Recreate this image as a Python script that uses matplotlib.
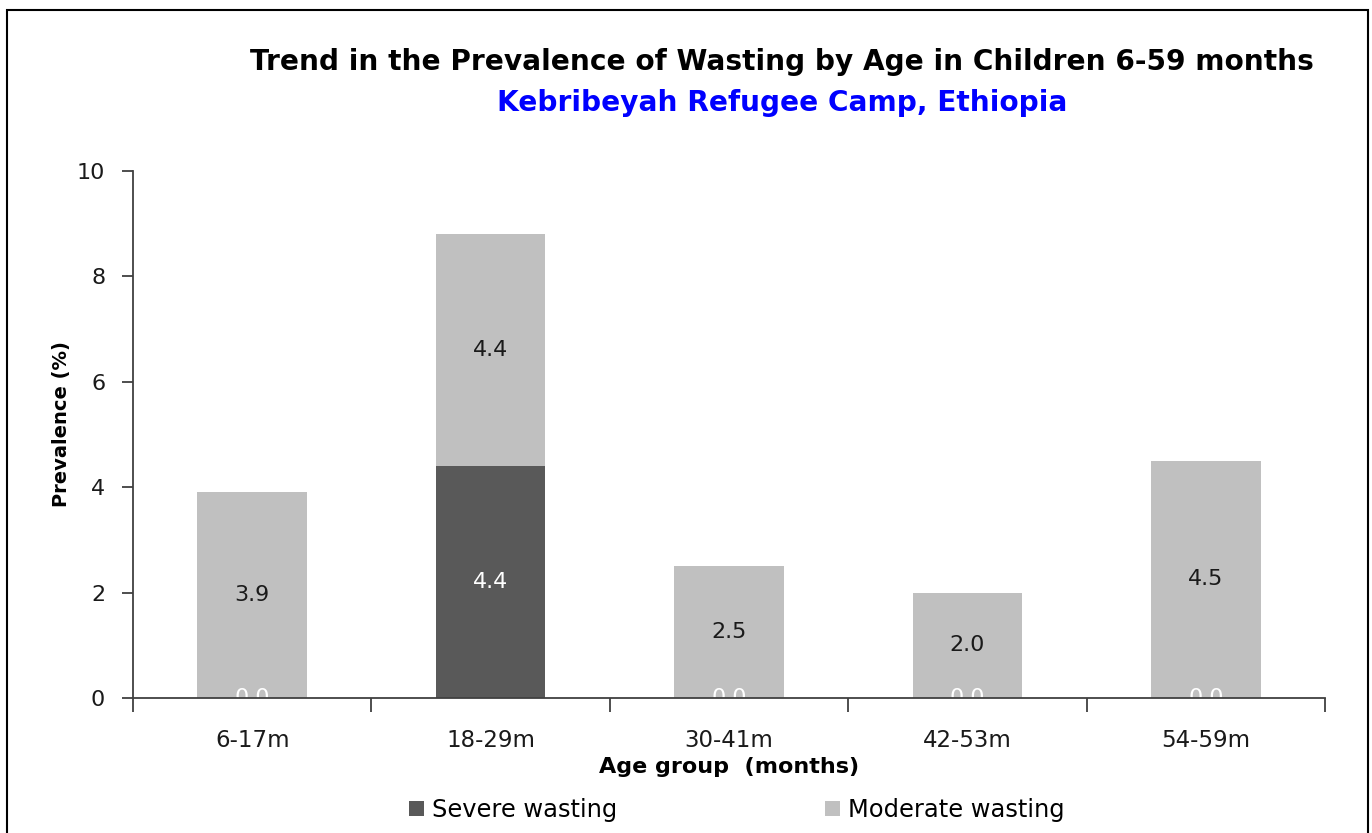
import matplotlib
matplotlib.use("Agg")
from matplotlib import pyplot as plt
from matplotlib.patches import Rectangle, Patch
import numpy as np

plt.rcParams['font.family'] = ['DejaVu Sans']

# data
age_groups = ['6-17m', '18-29m', '30-41m', '42-53m', '54-59m']
severe = [0.0, 4.4, 0.0, 0.0, 0.0]
moderate = [3.9, 4.4, 2.5, 2.0, 4.5]
y_ticks = [0, 2, 4, 6, 8, 10]

col_severe = '#595959'
col_moderate = '#c0c0c0'
axis_col = '#404040'

fig = plt.figure(figsize=(13.72, 8.33), dpi=100)

# outer frame (bottom edge falls outside the picture)
fig.patches.append(Rectangle((7 / 1372, -0.05), 1361 / 1372, 1.05 - 10 / 833,
                             transform=fig.transFigure, fill=False,
                             edgecolor='black', linewidth=1.5))

ax = fig.add_axes([133 / 1372, 1 - 698 / 833, 1192 / 1372, 527 / 833])
x = np.arange(len(age_groups))
w = 0.46

b1 = ax.bar(x, severe, w, color=col_severe, zorder=2)
b2 = ax.bar(x, moderate, w, bottom=severe, color=col_moderate, zorder=2)

# segment labels
for i in range(len(age_groups)):
    ax.text(x[i], severe[i] / 2, f'{severe[i]:.1f}', ha='center', va='center',
            color='white', fontsize=16, zorder=3)
    ax.text(x[i], severe[i] + moderate[i] / 2, f'{moderate[i]:.1f}', ha='center',
            va='center', color='#1a1a1a', fontsize=16, zorder=3)

ax.set_xlim(-0.5, len(age_groups) - 0.5)
ax.set_ylim(0, 10)
ax.set_yticks(y_ticks)
ax.set_xticks(x)
ax.set_xticklabels(age_groups)
ax.set_xticks(np.arange(-0.5, len(age_groups)), minor=True)
ax.tick_params(axis='x', which='major', length=0, pad=22, labelsize=16.5, colors='#1a1a1a')
ax.tick_params(axis='x', which='minor', length=10, width=1.3, color=axis_col)
ax.tick_params(axis='y', length=8, width=1.3, color=axis_col, pad=12, labelsize=16,
               labelcolor='#1a1a1a')

for s in ['top', 'right']:
    ax.spines[s].set_visible(False)
for s in ['left', 'bottom']:
    ax.spines[s].set_color(axis_col)
    ax.spines[s].set_linewidth(1.3)
    ax.spines[s].set_zorder(4)

ax.set_ylabel('Prevalence (%)', fontsize=14, fontweight='bold', labelpad=8)
ax.yaxis.set_label_coords(-0.052, 0.52)
ax.set_xlabel('Age group  (months)', fontsize=16, fontweight='bold', labelpad=4)

fig.text(782 / 1372, 1 - 62 / 833,
         'Trend in the Prevalence of Wasting by Age in Children 6-59 months',
         ha='center', va='center', fontsize=20.2, fontweight='bold', color='black')
fig.text(782 / 1372, 1 - 103 / 833, 'Kebribeyah Refugee Camp, Ethiopia',
         ha='center', va='center', fontsize=20.2, fontweight='bold', color='#0000ff')

handles = [Patch(facecolor=col_severe, label='Severe wasting'),
           Patch(facecolor=col_moderate, label='Moderate wasting')]
fig.legend(handles=handles, loc='center', bbox_to_anchor=(737 / 1372, 1 - 810 / 833),
           ncol=2, frameon=False, fontsize=17.4, handlelength=0.62, handleheight=0.62,
           handletextpad=0.33, columnspacing=8.6)

fig.savefig('out.png', dpi=100)
